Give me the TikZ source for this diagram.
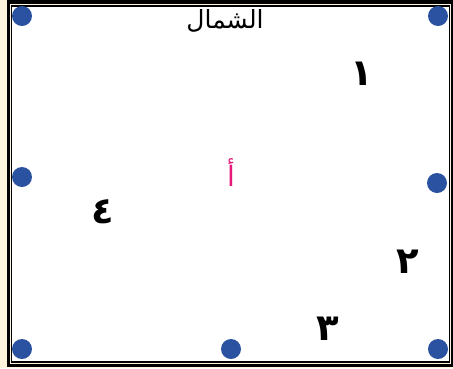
\documentclass[tikz,border=0pt]{standalone}
\usepackage{fontspec}
\TeXXeTstate=1
\newfontfamily\arabicfont[Script=Arabic]{DejaVu Sans}
\definecolor{cream}{HTML}{FFF5DC}
\definecolor{dotblue}{HTML}{2B52A0}
\definecolor{pink}{HTML}{E6197A}
\begin{document}
\begin{tikzpicture}[x=1pt,y=-1pt,
  dot/.style={circle,fill=dotblue,minimum size=20pt,inner sep=0pt},
  lbl/.style={font=\arabicfont\bfseries\fontsize{37}{41}\selectfont,inner sep=0pt},
  alef/.style={font=\arabicfont\fontsize{28}{32}\selectfont,inner sep=0pt},
  title/.style={font=\arabicfont\fontsize{25}{30}\selectfont,inner sep=0pt}]
\useasboundingbox (0,0) rectangle (453,368);
% frame
\fill[cream] (0,0) rectangle (453,368);
\fill[black] (7,0) rectangle (453,367);
\fill[cream] (9.5,4) rectangle (451,364);
\fill[black] (10.5,5) rectangle (450,363);
\fill[white] (12,7) rectangle (448.5,361);
% dots
\node[dot] (tl) at (22,16) {};
\node[dot] (tr) at (438,16) {};
\node[dot] (ml) at (22,177) {};
\node[dot] (mr) at (437,183) {};
\node[dot] (bl) at (22,349) {};
\node[dot] (bm) at (231,349) {};
\node[dot] (br) at (438,349) {};
% labels
\node[title] (north) at (225,21) {\beginR الشمال\endR};
\node[lbl] (n1) at (362,74) {\beginR ١\endR};
\node[lbl] (n2) at (408,262) {\beginR ٢\endR};
\node[lbl] (n3) at (328,329) {\beginR ٣\endR};
\node[lbl] (n4) at (103,212) {\beginR ٤\endR};
\node[alef,text=pink] (a) at (231,173) {\beginR أ\endR};
\end{tikzpicture}
\end{document}
